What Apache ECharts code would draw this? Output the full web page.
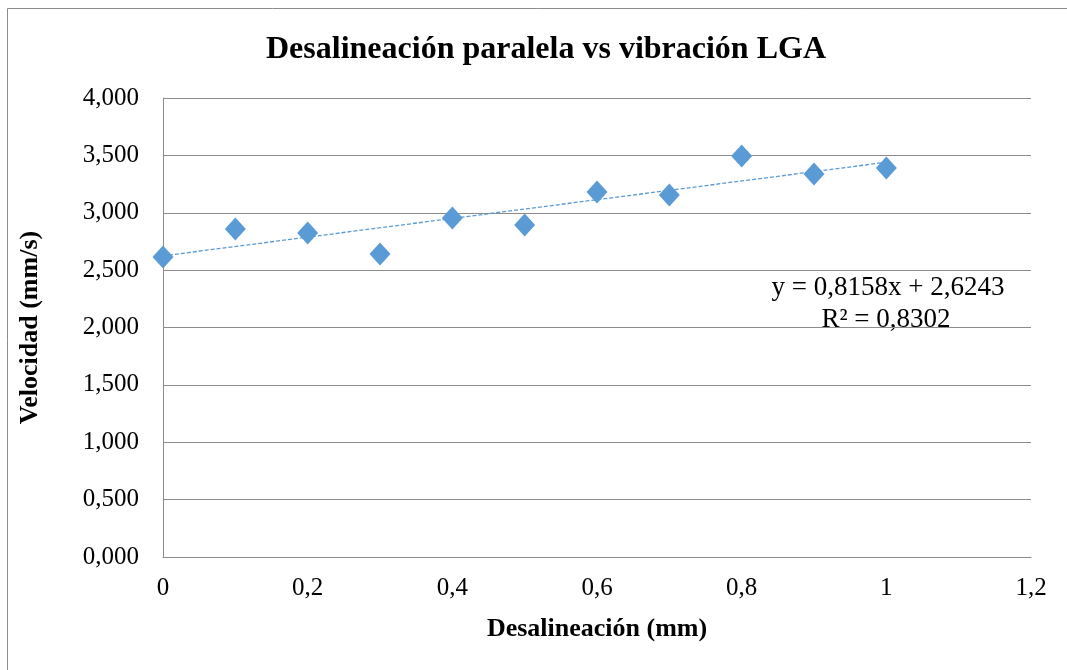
<!DOCTYPE html>
<html>
<head>
<meta charset="utf-8">
<script src="https://cdn.jsdelivr.net/npm/echarts@6/dist/echarts.min.js"></script>
<style>
  html, body { margin: 0; padding: 0; background: #fff; }
  #chart { width: 1067px; height: 670px; }
</style>
</head>
<body>
<div id="chart"></div>
<script>
// Measured misalignment (mm) and vibration velocity (mm/s)
const desalineacion = [0, 0.1, 0.2, 0.3, 0.4, 0.5, 0.6, 0.7, 0.8, 0.9, 1.0];
const velocidad = [2.614, 2.858, 2.824, 2.641, 2.954, 2.893, 3.181, 3.155, 3.495, 3.338, 3.390];

// Linear trendline coefficients
const pendiente = 0.8158;
const intercepto = 2.6243;
const r2 = 0.8302;

const fmtComma = (v, d) => v.toFixed(d).replace('.', ',');

const points = desalineacion.map((x, i) => [x, velocidad[i]]);
const trend = [[0, intercepto], [1, intercepto + pendiente]];

const serif = '"Liberation Serif", "Times New Roman", serif';
const blue = '#5B9BD5';

const chart = echarts.init(document.getElementById('chart'));
chart.setOption({
  animation: false,
  backgroundColor: '#fff',
  textStyle: { fontFamily: serif },
  title: {
    text: 'Desalineación paralela vs vibración LGA',
    left: 541, top: 29, textAlign: 'center',
    textStyle: { fontFamily: serif, fontSize: 32, fontWeight: 'bold', color: '#000' }
  },
  graphic: [
    {
      type: 'rect', shape: { x: 7.5, y: 8.5, width: 1100, height: 700 },
      style: { fill: 'none', stroke: '#8c8c8c', lineWidth: 1 }, silent: true
    },
    {
      type: 'text',
      style: {
        text: 'y = ' + fmtComma(pendiente, 4) + 'x + ' + fmtComma(intercepto, 4),
        x: 888, y: 274, textAlign: 'center',
        font: '27px ' + serif, fill: '#000'
      }
    },
    {
      type: 'text',
      style: {
        text: 'R² = ' + fmtComma(r2, 4),
        x: 886, y: 306, textAlign: 'center',
        font: '27px ' + serif, fill: '#000'
      }
    }
  ],
  grid: { left: 163, top: 98, right: 36, bottom: 113 },
  xAxis: {
    type: 'value', min: 0, max: 1.2, interval: 0.2,
    name: 'Desalineación (mm)', nameLocation: 'middle', nameGap: 59,
    nameTextStyle: { fontFamily: serif, fontSize: 26, fontWeight: 'bold', color: '#000' },
    axisLine: { show: true, lineStyle: { color: '#8c8c8c', width: 1 } },
    axisTick: { show: false },
    splitLine: { show: false },
    axisLabel: {
      fontFamily: serif, fontSize: 25, color: '#000', margin: 19,
      formatter: v => fmtComma(Math.round(v * 10) / 10, v === 0 || v === 1 ? 0 : 1)
    }
  },
  yAxis: {
    type: 'value', min: 0, max: 4, interval: 0.5,
    name: 'Velocidad (mm/s)', nameLocation: 'middle', nameGap: 120, nameRotate: 90,
    nameTextStyle: { fontFamily: serif, fontSize: 26, fontWeight: 'bold', color: '#000' },
    axisLine: { show: true, lineStyle: { color: '#8c8c8c', width: 1 } },
    axisTick: { show: false },
    splitLine: { show: true, lineStyle: { color: '#8c8c8c', width: 1 } },
    axisLabel: {
      fontFamily: serif, fontSize: 25, color: '#000', margin: 24,
      formatter: v => fmtComma(v, 3)
    }
  },
  series: [
    {
      type: 'line', data: trend, showSymbol: false, symbol: 'none',
      lineStyle: { color: blue, width: 1.3, type: [4, 2] }, z: 2, silent: true
    },
    {
      type: 'scatter', data: points, symbol: 'diamond', symbolSize: [21, 23],
      itemStyle: { color: blue, opacity: 1 }, z: 3
    }
  ]
});
</script>
</body>
</html>
